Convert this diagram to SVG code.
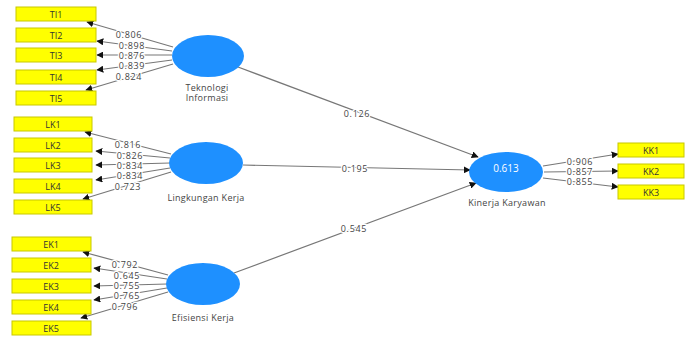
<svg xmlns="http://www.w3.org/2000/svg" width="686" height="337" viewBox="0 0 686 337">
<defs>
<marker id="ah" viewBox="0 0 10 10" refX="9" refY="5" markerWidth="7" markerHeight="7" markerUnits="userSpaceOnUse" orient="auto">
<path d="M0,0 L10,5 L0,10 z" fill="#111"/>
</marker>
<style>
.box{fill:#ffff00;stroke:#c8c800;stroke-width:1}
.bt{font-family:"Open Sans","DejaVu Sans",sans-serif;font-size:9px;fill:#333;text-anchor:middle;dominant-baseline:central}
.lv{fill:#1e90ff}
.lt{font-family:"Open Sans","DejaVu Sans",sans-serif;font-size:9px;fill:#444;text-anchor:middle;letter-spacing:0.3px}
.vt{font-family:"Open Sans","DejaVu Sans",sans-serif;font-size:10px;fill:#fff;text-anchor:middle;dominant-baseline:central}
.ln{stroke:#777;stroke-width:1.2;fill:none;marker-end:url(#ah)}
.wl{font-family:"Open Sans","DejaVu Sans",sans-serif;font-size:9px;letter-spacing:0.7px;fill:#444;text-anchor:middle;dominant-baseline:central;paint-order:stroke;stroke:#fff;stroke-width:2.5px}
</style>
</defs>
<rect width="686" height="337" fill="#fff"/>
<g id="connectors">
<line class="ln" x1="173" y1="47" x2="87" y2="22"/>
<line class="ln" x1="172" y1="51" x2="97" y2="41"/>
<line class="ln" x1="172" y1="55" x2="97" y2="55"/>
<line class="ln" x1="172" y1="60" x2="97" y2="70"/>
<line class="ln" x1="173" y1="64" x2="86" y2="90"/>
<line class="ln" x1="171" y1="154" x2="85" y2="132"/>
<line class="ln" x1="170" y1="158" x2="96" y2="151"/>
<line class="ln" x1="170" y1="163" x2="96" y2="165"/>
<line class="ln" x1="170" y1="168" x2="96" y2="180"/>
<line class="ln" x1="171" y1="172" x2="83" y2="199"/>
<line class="ln" x1="168" y1="275" x2="83" y2="252"/>
<line class="ln" x1="167" y1="279" x2="94" y2="268"/>
<line class="ln" x1="167" y1="284" x2="94" y2="286"/>
<line class="ln" x1="167" y1="288" x2="94" y2="300"/>
<line class="ln" x1="168" y1="292" x2="81" y2="318"/>
<line class="ln" x1="238" y1="67" x2="478" y2="157"/>
<line class="ln" x1="243" y1="165" x2="470" y2="170"/>
<line class="ln" x1="234" y1="273" x2="476" y2="183"/>
<line class="ln" x1="543" y1="166" x2="618" y2="154"/>
<line class="ln" x1="544" y1="172" x2="618" y2="171"/>
<line class="ln" x1="543" y1="178" x2="618" y2="187"/>
<text class="wl" x="129" y="34">0.806</text>
<text class="wl" x="132" y="45">0.898</text>
<text class="wl" x="132" y="55">0.876</text>
<text class="wl" x="132" y="65">0.839</text>
<text class="wl" x="129" y="76">0.824</text>
<text class="wl" x="128" y="144">0.816</text>
<text class="wl" x="130" y="155">0.826</text>
<text class="wl" x="130" y="165">0.834</text>
<text class="wl" x="130" y="175">0.834</text>
<text class="wl" x="128" y="186">0.723</text>
<text class="wl" x="125" y="264">0.792</text>
<text class="wl" x="127" y="275">0.645</text>
<text class="wl" x="127" y="285">0.755</text>
<text class="wl" x="127" y="295">0.765</text>
<text class="wl" x="125" y="306">0.796</text>
<text class="wl" x="357" y="113">0.126</text>
<text class="wl" x="355" y="168">0.195</text>
<text class="wl" x="354" y="228">0.545</text>
<text class="wl" x="580" y="161">0.906</text>
<text class="wl" x="580" y="171">0.857</text>
<text class="wl" x="580" y="181">0.855</text>
</g>
<g id="TI1"><rect class="box" x="16" y="7" width="80" height="14"/><text class="bt" x="56" y="14">TI1</text></g>
<g id="TI2"><rect class="box" x="16" y="28" width="80" height="14"/><text class="bt" x="56" y="35">TI2</text></g>
<g id="TI3"><rect class="box" x="16" y="48" width="80" height="14"/><text class="bt" x="56" y="55">TI3</text></g>
<g id="TI4"><rect class="box" x="16" y="70" width="80" height="14"/><text class="bt" x="56" y="77">TI4</text></g>
<g id="TI5"><rect class="box" x="16" y="91" width="80" height="14"/><text class="bt" x="56" y="98">TI5</text></g>
<g id="LK1"><rect class="box" x="14" y="117" width="78" height="14"/><text class="bt" x="53" y="124">LK1</text></g>
<g id="LK2"><rect class="box" x="14" y="138" width="78" height="14"/><text class="bt" x="53" y="145">LK2</text></g>
<g id="LK3"><rect class="box" x="14" y="158" width="78" height="14"/><text class="bt" x="53" y="165">LK3</text></g>
<g id="LK4"><rect class="box" x="14" y="179" width="78" height="14"/><text class="bt" x="53" y="186">LK4</text></g>
<g id="LK5"><rect class="box" x="14" y="200" width="78" height="14"/><text class="bt" x="53" y="207">LK5</text></g>
<g id="EK1"><rect class="box" x="12" y="237" width="79" height="14"/><text class="bt" x="51" y="244">EK1</text></g>
<g id="EK2"><rect class="box" x="12" y="258" width="79" height="14"/><text class="bt" x="51" y="265">EK2</text></g>
<g id="EK3"><rect class="box" x="12" y="279" width="79" height="14"/><text class="bt" x="51" y="286">EK3</text></g>
<g id="EK4"><rect class="box" x="12" y="300" width="79" height="14"/><text class="bt" x="51" y="307">EK4</text></g>
<g id="EK5"><rect class="box" x="12" y="321" width="79" height="14"/><text class="bt" x="51" y="328">EK5</text></g>
<g id="KK1"><rect class="box" x="618" y="143" width="66" height="14"/><text class="bt" x="651" y="150">KK1</text></g>
<g id="KK2"><rect class="box" x="618" y="164" width="66" height="14"/><text class="bt" x="651" y="171">KK2</text></g>
<g id="KK3"><rect class="box" x="618" y="185" width="66" height="14"/><text class="bt" x="651" y="192">KK3</text></g>
<g id="TeknologiInformasi"><ellipse class="lv" cx="208" cy="56" rx="36" ry="21"/><text class="lt" x="207" y="91">Teknologi</text><text class="lt" x="207" y="101">Informasi</text></g>
<g id="LingkunganKerja"><ellipse class="lv" cx="206" cy="163" rx="37" ry="21"/><text class="lt" x="206" y="201">Lingkungan Kerja</text></g>
<g id="EfisiensiKerja"><ellipse class="lv" cx="203" cy="284" rx="37" ry="21"/><text class="lt" x="203" y="321">Efisiensi Kerja</text></g>
<g id="KinerjaKaryawan"><ellipse class="lv" cx="506" cy="172" rx="37" ry="20"/><text class="vt" x="506" y="168">0.613</text><text class="lt" x="507" y="206">Kinerja Karyawan</text></g>
</svg>
